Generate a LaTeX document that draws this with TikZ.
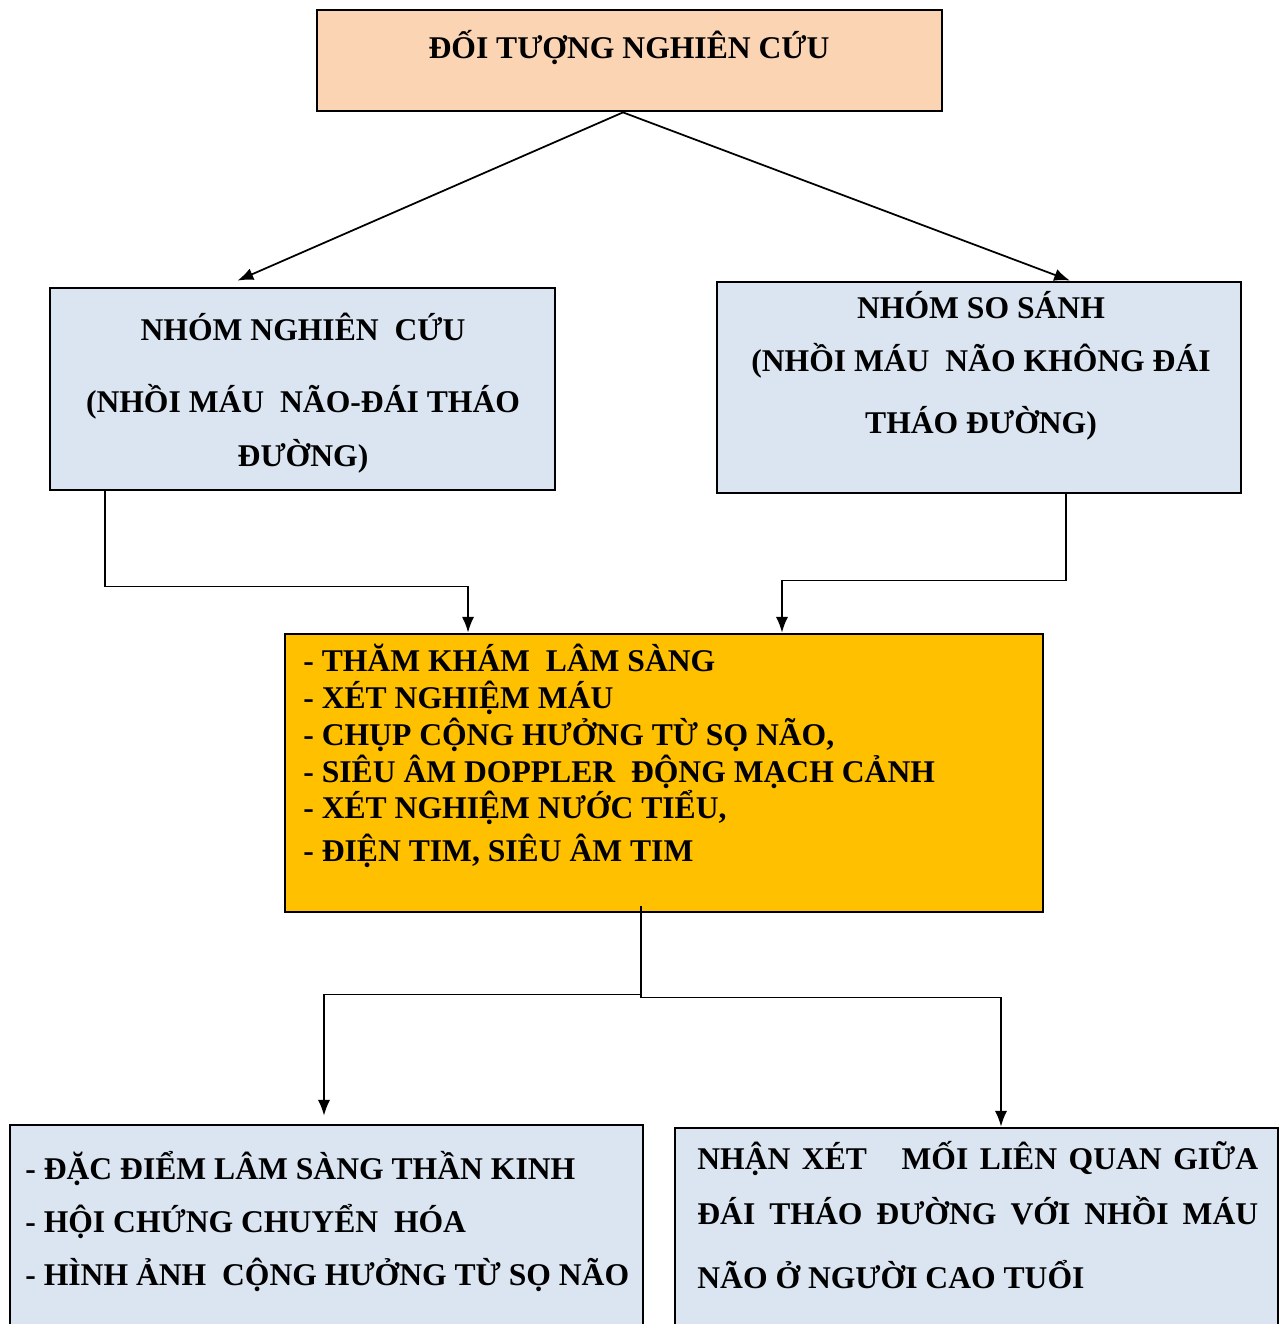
\documentclass[tikz,border=0pt]{standalone}
\usepackage{fontspec}
\setmainfont{Liberation Serif}
\usetikzlibrary{arrows.meta}
\definecolor{peach}{HTML}{FBD4B4}
\definecolor{lightblue}{HTML}{DBE5F1}
\definecolor{amber}{HTML}{FFC000}
\begin{document}
\begin{tikzpicture}[x=0.02cm, y=-0.02cm, font=\bfseries\fontsize{18}{21}\selectfont]
    % Styles
    \tikzstyle{box} = [rectangle, draw, line width=1.6pt, inner sep=0pt]
    \tikzstyle{cam} = [box, fill=peach]
    \tikzstyle{xanh} = [box, fill=lightblue]
    \tikzstyle{vang} = [box, fill=amber]
    \tikzstyle{chu} = [inner sep=0pt, align=center]
    \tikzstyle{chutrai} = [inner sep=0pt, align=left, anchor=west]
    \tikzstyle{arrow} = [line width=1pt, -{Latex[length=9pt, width=7pt]}]

    \clip (0,0) rectangle (1285,1324);

    % Boxes
    \node [cam, minimum width=12.5cm, minimum height=2.02cm] (doituong) at (629.5,60.5) {};
    \node [xanh, minimum width=10.1cm, minimum height=4.04cm] (nhomnc) at (302.5,389) {};
    \node [xanh, minimum width=10.48cm, minimum height=4.22cm] (nhomss) at (979,387.5) {};
    \node [vang, minimum width=15.16cm, minimum height=5.56cm] (kham) at (664,773) {};
    \node [xanh, minimum width=12.66cm, minimum height=4.3cm] (danhgia) at (326.5,1232.5) {};
    \node [xanh, minimum width=12.06cm, minimum height=4.24cm] (nhanxet) at (976.5,1234) {};

    % Texts
    \node [chu, anchor=base] (tdoituong) at (629,59) {ĐỐI TƯỢNG NGHIÊN CỨU};
    \node [chu] (tnhomnc) at (303,393) {NHÓM NGHIÊN\ \ CỨU\\[0.7cm]
        (NHỒI MÁU\ \ NÃO-ĐÁI THÁO\\[0.34cm] ĐƯỜNG)};
    \node [chu] (tnhomss) at (981,366) {NHÓM SO SÁNH\\[0.32cm]
        (NHỒI MÁU\ \ NÃO KHÔNG ĐÁI\\[0.5cm] THÁO ĐƯỜNG)};
    \node [chutrai] (tkham) at (303,756) {- THĂM KHÁM\ \ LÂM SÀNG\\
        - XÉT NGHIỆM MÁU\\
        - CHỤP\ CỘNG HƯỞNG TỪ SỌ\ NÃO,\\
        - SIÊU\ ÂM DOPPLER\ \ ĐỘNG MẠCH\ CẢNH\\
        - XÉT NGHIỆM NƯỚC TIỂU,\\[0.12cm]
        - ĐIỆN TIM, SIÊU ÂM TIM};
    \node [chutrai] (tdanhgia) at (25,1221.5) {- ĐẶC ĐIỂM LÂM SÀNG THẦN KINH\\[0.33cm]
        - HỘI CHỨNG CHUYỂN\ \ HÓA\\[0.33cm]
        - HÌNH ẢNH\ \ CỘNG HƯỞNG TỪ SỌ NÃO};
    \node [chutrai] (tnhanxet) at (697,1215) {\makebox[11.22cm][s]{NHẬN XÉT\ \ \ MỐI LIÊN QUAN GIỮA}\\[0.38cm]
        \makebox[11.22cm][s]{ĐÁI THÁO ĐƯỜNG VỚI NHỒI MÁU}\\[0.54cm]
        NÃO Ở NGƯỜI CAO TUỔI};

    % Arrows
    \draw [arrow] ([xshift=-0.13cm]doituong.south) -- ([xshift=-1.3cm, yshift=0.12cm]nhomnc.north);
    \draw [arrow] ([xshift=-0.13cm]doituong.south) -- ([xshift=1.82cm]nhomss.north);
    \draw [arrow] ([xshift=-3.95cm]nhomnc.south) -- ++(0,95) -| ([xshift=-3.92cm]kham.north);
    \draw [arrow] ([xshift=1.74cm]nhomss.south) -- ++(0,86) -| ([xshift=2.36cm]kham.north);
    \draw [arrow] ([xshift=-0.46cm, yshift=0.14cm]kham.south) -- ++(0,88) -| ([xshift=-0.05cm, yshift=0.16cm]danhgia.north);
    \draw [arrow] ([xshift=-0.46cm, yshift=0.14cm]kham.south) -- ++(0,91) -| ([xshift=0.49cm]nhanxet.north);
\end{tikzpicture}
\end{document}
